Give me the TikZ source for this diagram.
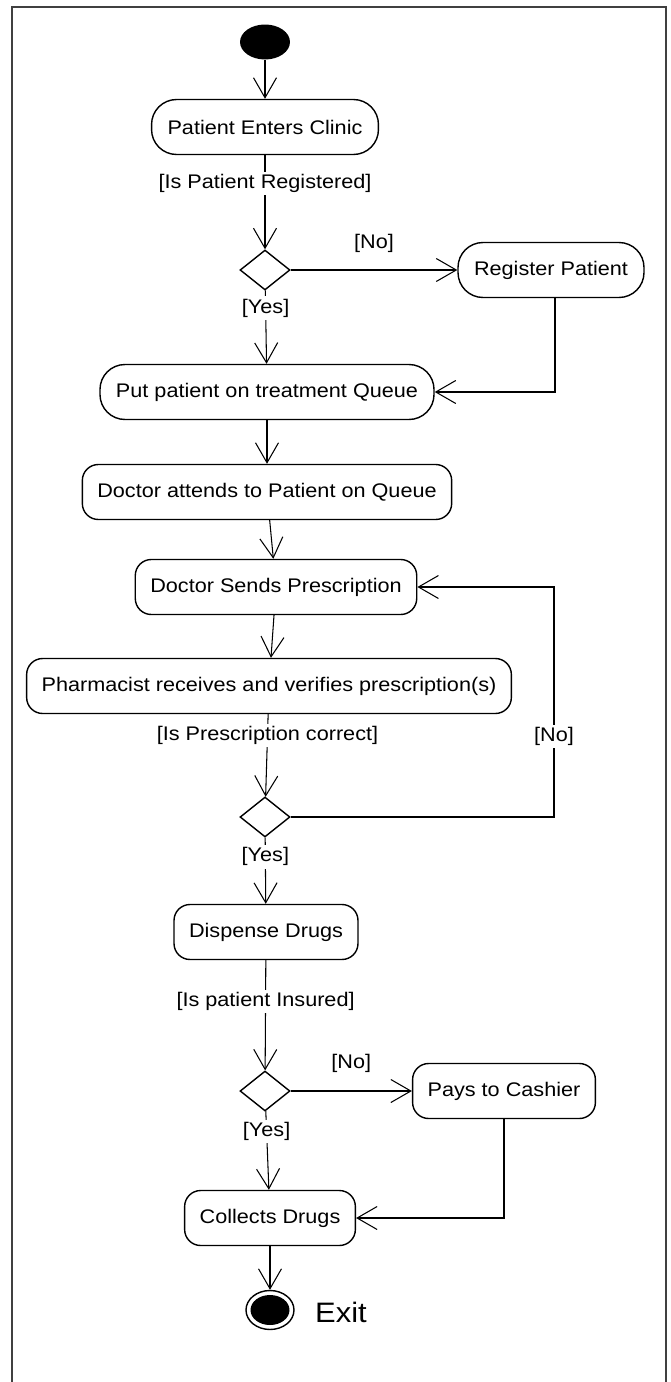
\documentclass[tikz,border=0pt]{standalone}
\usepackage{fontspec}
\setmainfont{Liberation Sans}[FakeStretch=1.1]
\usetikzlibrary{arrows.meta,shapes.geometric}
\begin{document}
\begin{tikzpicture}[x=0.02cm,y=-0.02cm,
        every node/.style={font=\fontsize{11.2}{13}\selectfont},
        act/.style={draw,line width=0.8pt,rounded corners=0.32cm,minimum height=1.1cm,inner xsep=0.3cm},
        stadium/.style={draw,line width=0.8pt,rounded corners=0.5cm,minimum height=1.1cm,inner xsep=0.32cm},
        choice/.style={draw,line width=0.8pt,diamond,minimum width=1cm,minimum height=0.8cm,inner sep=0pt},
        flow/.style={line width=0.6pt,-{Straight Barb[length=0.4cm,width=0.46cm]}},
        guard/.style={fill=white,inner sep=1.5pt}]
        \useasboundingbox (0,0) rectangle (670,1382);
        \draw [line width=1.1pt,black!75] (12,1382) -- (12,7) -- (666,7) -- (666,1382);
        \node [ellipse,fill=black,minimum width=1cm,minimum height=0.7cm,inner sep=0pt] (start) at (265,42) {};
        \node [stadium] (enter) at (265,127) {Patient Enters Clinic};
        \node [choice] (d1) at (265,270) {};
        \node [stadium] (reg) at (551,270) {Register Patient};
        \node [stadium] (queue) at (267,392) {Put patient on treatment Queue};
        \node [act] (attend) at (267,492) {Doctor attends to Patient on Queue};
        \node [act] (send) at (276,587) {Doctor Sends Prescription};
        \node [act] (pharm) at (269,686) {Pharmacist receives and verifies prescription(s)};
        \node [choice] (d2) at (265,817) {};
        \node [act] (disp) at (266,932) {Dispense Drugs};
        \node [choice] (d3) at (265,1091) {};
        \node [act] (pays) at (504,1091) {Pays to Cashier};
        \node [act] (collect) at (270,1218) {Collects Drugs};
        \node [ellipse,draw,line width=0.8pt,minimum width=0.96cm,minimum height=0.78cm,inner sep=0pt] (fin) at (270,1310) {};
        \node [ellipse,fill=black,minimum width=0.78cm,minimum height=0.6cm,inner sep=0pt] (fincore) at (fin) {};
        \node [font=\fontsize{16}{19}\selectfont] (exit) at (341,1312) {Exit};
        \coordinate (loop) at (554,587);
        \draw [flow] (start) -- (enter);
        \draw [flow] (enter) -- node [guard,pos=0.3] {[Is Patient Registered]} (d1);
        \draw [flow] (d1) -- node [above=0.22cm,midway] {[No]} (reg);
        \draw [flow] (d1) -- node [guard,pos=0.24] {[Yes]} (queue);
        \draw [flow] (reg.south -| 555,0) |- (queue.east);
        \draw [flow] (queue) -- (attend);
        \draw [flow] (attend) -- (send);
        \draw [flow] (send) -- (pharm);
        \draw [flow] (pharm) -- node [guard,pos=0.26] {[Is Prescription correct]} (d2);
        \draw [flow] (d2.east) -| node [guard,pos=0.675] {[No]} (loop) -- (send.east);
        \draw [flow] (d2) -- node [guard,pos=0.29] {[Yes]} (disp);
        \draw [flow] (disp) -- node [guard,pos=0.375] {[Is patient Insured]} (d3);
        \draw [flow] (d3) -- node [above=0.24cm,midway] {[No]} (pays);
        \draw [flow] (d3) -- node [guard,pos=0.26] {[Yes]} (collect);
        \draw [flow] (pays) |- (collect.east);
        \draw [flow] (collect) -- (fin);
\end{tikzpicture}
\end{document}
